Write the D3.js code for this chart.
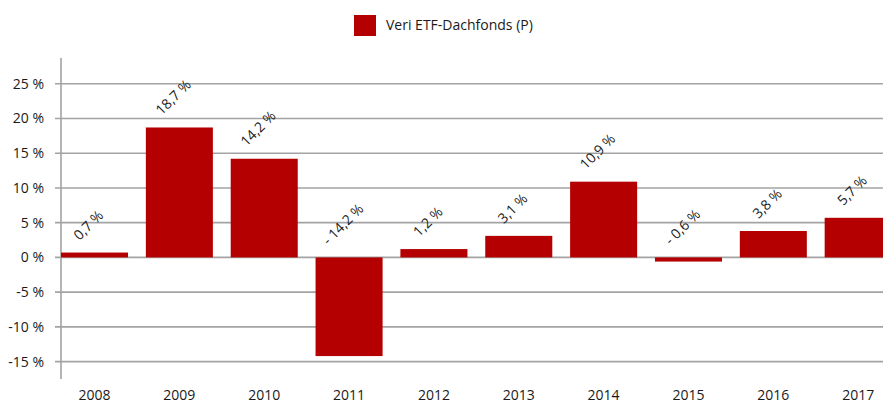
<!DOCTYPE html>
<html>
<head>
<meta charset="utf-8">
<script src="https://cdn.jsdelivr.net/npm/d3@7"></script>
<style>
  html, body { margin: 0; padding: 0; background: #fff; }
  svg { display: block; font-family: "Open Sans", "Noto Sans", sans-serif; }
</style>
</head>
<body>
<svg id="chart" width="883" height="403"></svg>
<script>
const years = ["2008","2009","2010","2011","2012","2013","2014","2015","2016","2017"];
const values = [0.7, 18.7, 14.2, -14.2, 1.2, 3.1, 10.9, -0.6, 3.8, 5.7];
const yTicks = [25, 20, 15, 10, 5, 0, -5, -10, -15];
const seriesName = "Veri ETF-Dachfonds (P)";

const W = 883, H = 403;
const barColor = "#b40000";
const gridColor = "#a3a3a3";
const textColor = "#1a1a1a";

const svg = d3.select("#chart");

const x = d3.scaleBand().domain(years).range([61, 891.7]).paddingInner(0.21).paddingOuter(0);
const y = d3.scaleLinear().domain([-17.5, 28.7]).range([379, 58]);

// gridlines
svg.append("g").selectAll("line").data(yTicks).join("line")
  .attr("x1", 55).attr("x2", W)
  .attr("y1", d => y(d)).attr("y2", d => y(d))
  .attr("stroke", gridColor).attr("stroke-width", 1.6);

// y axis line
svg.append("line").attr("x1", 61).attr("x2", 61).attr("y1", y(28.7)).attr("y2", y(-17.5))
  .attr("stroke", gridColor).attr("stroke-width", 1.6);

// y tick labels
svg.append("g").selectAll("text").data(yTicks).join("text")
  .attr("x", 44).attr("y", d => y(d)).attr("dy", "0.35em")
  .attr("text-anchor", "end").attr("font-size", 14).attr("fill", textColor)
  .text(d => d + " %");

// bars
svg.append("g").selectAll("rect").data(values).join("rect")
  .attr("x", (d, i) => x(years[i]))
  .attr("width", x.bandwidth())
  .attr("y", d => y(Math.max(0, d)))
  .attr("height", d => Math.abs(y(d) - y(0)))
  .attr("fill", barColor);

// x labels
svg.append("g").selectAll("text").data(years).join("text")
  .attr("x", d => x(d) + x.bandwidth() / 2).attr("y", 399.5)
  .attr("text-anchor", "middle").attr("font-size", 14).attr("fill", textColor)
  .text(d => d);

// value labels
const fmt = v => (v < 0 ? "- " : "") + d3.format(".1f")(Math.abs(v)).replace(".", ",") + " %";
const ang = 45, rad = ang * Math.PI / 180;
const lbl = svg.append("g").selectAll("text").data(values).join("text")
  .attr("font-size", 14).attr("fill", textColor)
  .attr("text-anchor", "middle").attr("dominant-baseline", "central")
  .text(d => fmt(d));
lbl.each(function(d, i) {
  const w = this.getComputedTextLength();
  const h = 10;
  const bh = w * Math.sin(rad) + h * Math.cos(rad);
  const cx = x(years[i]) + x.bandwidth() / 2 - 6.5;
  const cy = y(Math.max(0, d)) - (12 + bh / 2);
  d3.select(this).attr("transform", `translate(${cx},${cy}) rotate(${-ang})`);
});

// legend
svg.append("rect").attr("x", 354).attr("y", 15).attr("width", 22).attr("height", 21).attr("fill", barColor);
svg.append("text").attr("x", 386).attr("y", 30).attr("font-size", 14).attr("fill", textColor).text(seriesName);
</script>
</body>
</html>
